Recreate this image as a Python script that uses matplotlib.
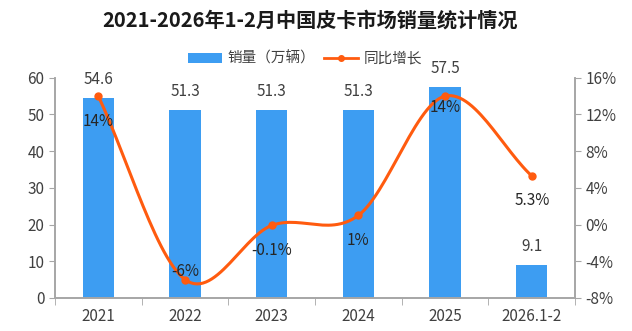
import matplotlib
import matplotlib.pyplot as plt
import numpy as np
from matplotlib.lines import Line2D
from matplotlib.patches import Patch

matplotlib.use("Agg")

plt.rcParams["font.family"] = ["Noto Sans CJK SC", "DejaVu Sans"]

BAR_COLOR = "#3d9df2"
LINE_COLOR = "#ff5b0f"
AXIS_COLOR = "#a6a6a6"
TEXT_COLOR = "#404040"

categories = ["2021", "2022", "2023", "2024", "2025", "2026.1-2"]
sales = [54.6, 51.3, 51.3, 51.3, 57.5, 9.1]
growth = [14, -6, -0.1, 1, 14, 5.3]
growth_labels = ["14%", "-6%", "-0.1%", "1%", "14%", "5.3%"]

# label offsets (points) for growth labels
growth_offsets = [(0, -18), (0, 6), (0, -18), (0, -18), (0, -8), (0, -18)]


def catmull_rom(x, y, n=30):
    x = np.asarray(x, dtype=float)
    y = np.asarray(y, dtype=float)
    px = np.concatenate(([2 * x[0] - x[1]], x, [2 * x[-1] - x[-2]]))
    py = np.concatenate(([2 * y[0] - y[1]], y, [2 * y[-1] - y[-2]]))
    xs, ys = [], []
    for i in range(1, len(px) - 2):
        t = np.linspace(0, 1, n)
        t2, t3 = t * t, t * t * t
        for p, out in ((px, xs), (py, ys)):
            p0, p1, p2, p3 = p[i - 1], p[i], p[i + 1], p[i + 2]
            out.append(0.5 * (2 * p1 + (-p0 + p2) * t + (2 * p0 - 5 * p1 + 4 * p2 - p3) * t2
                              + (-p0 + 3 * p1 - 3 * p2 + p3) * t3))
    return np.concatenate(xs), np.concatenate(ys)


fig = plt.figure(figsize=(6.32, 3.31), dpi=100)
fig.patch.set_facecolor("white")
ax = fig.add_axes([0.087, 0.100, 0.823, 0.665])
ax2 = ax.twinx()

x = np.arange(len(categories))
ax.bar(x, sales, width=0.36, color=BAR_COLOR, zorder=2)
for xi, v in zip(x, sales):
    ax.annotate(f"{v}", (xi, v), xytext=(0, 7), textcoords="offset points",
                ha="center", va="bottom", fontsize=11, color=TEXT_COLOR)

ax.set_xlim(-0.5, len(categories) - 0.5)
ax.set_ylim(0, 60)
ax.set_yticks(range(0, 61, 10))
ax.set_xticks(x)
ax.set_xticklabels(categories, fontsize=11, color=TEXT_COLOR)
ax.set_xticks(np.arange(-0.5, len(categories), 1), minor=True)
ax.tick_params(axis="x", which="major", length=0, pad=7)
ax.tick_params(axis="x", which="minor", length=5, color=AXIS_COLOR)
ax.tick_params(axis="y", length=4, color=AXIS_COLOR, labelsize=11, labelcolor=TEXT_COLOR)

sx, sy = catmull_rom(x, growth)
ax2.plot(sx, sy, color=LINE_COLOR, linewidth=2.2, zorder=3)
ax2.plot(x, growth, "o", color=LINE_COLOR, markersize=5, zorder=4)
for xi, v, lab, off in zip(x, growth, growth_labels, growth_offsets):
    ax2.annotate(lab, (xi, v), xytext=off, textcoords="offset points",
                 ha="center", va="center", fontsize=11, color="#262626")
ax2.set_ylim(-8, 16)
ax2.set_yticks(range(-8, 17, 4))
ax2.set_yticklabels([f"{t}%" for t in range(-8, 17, 4)])
ax2.tick_params(axis="y", length=4, color=AXIS_COLOR, labelsize=11, labelcolor=TEXT_COLOR)

for a in (ax, ax2):
    a.spines["top"].set_visible(False)
    for s in ("left", "right", "bottom"):
        a.spines[s].set_color(AXIS_COLOR)
        a.spines[s].set_linewidth(1.2)

handles = [
    Patch(facecolor=BAR_COLOR, edgecolor="none", label="销量（万辆）"),
    Line2D([0], [0], color=LINE_COLOR, linewidth=2, marker="o", markersize=4, label="同比增长"),
]
fig.legend(handles=handles, loc="center", bbox_to_anchor=(0.483, 0.823), ncol=2,
           frameon=False, fontsize=10.5, handlelength=2.3, columnspacing=0.6, handletextpad=0.4,
           labelcolor=TEXT_COLOR)

fig.text(0.49, 0.94, "2021-2026年1-2月中国皮卡市场销量统计情况", ha="center", va="center",
         fontsize=14.5, fontweight="bold", color="#1a1a1a")

fig.savefig("out.png", dpi=100, facecolor="white")
